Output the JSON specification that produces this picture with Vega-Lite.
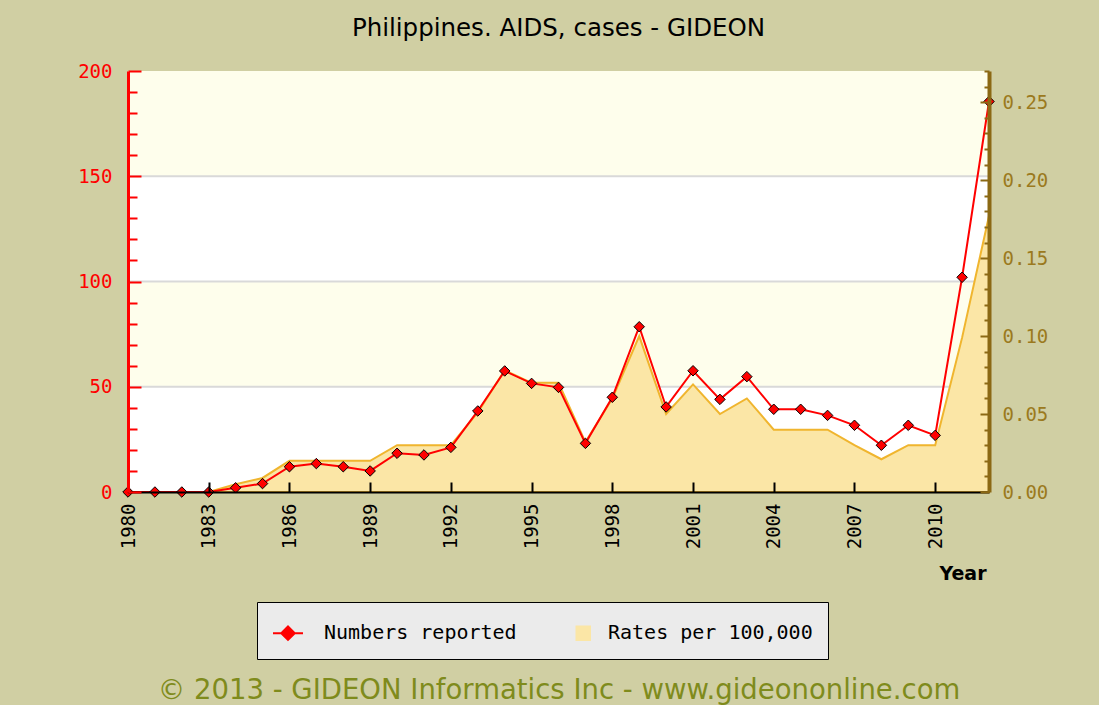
{
  "$schema": "https://vega.github.io/schema/vega-lite/v6.json",
  "width": 861,
  "height": 421,
  "autosize": {"type": "none"},
  "padding": {"left": 128, "top": 71, "right": 110, "bottom": 213},
  "background": "#d0cfa3",
  "view": {"fill": "white", "stroke": null},
  "title": {
    "text": "Philippines. AIDS, cases - GIDEON",
    "font": "DejaVu Sans",
    "fontSize": 24.5,
    "fontWeight": "normal",
    "color": "black",
    "anchor": "middle",
    "frame": "group",
    "offset": 21
  },
  "datasets": {
    "main": [
      {"year": 1980, "numbers": 0, "rate": null},
      {"year": 1981, "numbers": 0, "rate": null},
      {"year": 1982, "numbers": 0, "rate": null},
      {"year": 1983, "numbers": 0, "rate": 0},
      {"year": 1984, "numbers": 2, "rate": 0.005},
      {"year": 1985, "numbers": 4, "rate": 0.009},
      {"year": 1986, "numbers": 12, "rate": 0.02},
      {"year": 1987, "numbers": 13.5, "rate": 0.02},
      {"year": 1988, "numbers": 12, "rate": 0.02},
      {"year": 1989, "numbers": 10, "rate": 0.02},
      {"year": 1990, "numbers": 18.4, "rate": 0.03},
      {"year": 1991, "numbers": 17.6, "rate": 0.03},
      {"year": 1992, "numbers": 21.2, "rate": 0.03},
      {"year": 1993, "numbers": 38.5, "rate": 0.051},
      {"year": 1994, "numbers": 57.5, "rate": 0.078},
      {"year": 1995, "numbers": 51.6, "rate": 0.07},
      {"year": 1996, "numbers": 49.7, "rate": 0.07},
      {"year": 1997, "numbers": 23.1, "rate": 0.032},
      {"year": 1998, "numbers": 45, "rate": 0.06},
      {"year": 1999, "numbers": 78.5, "rate": 0.1},
      {"year": 2000, "numbers": 40.4, "rate": 0.05},
      {"year": 2001, "numbers": 57.6, "rate": 0.069},
      {"year": 2002, "numbers": 44, "rate": 0.05},
      {"year": 2003, "numbers": 54.8, "rate": 0.06},
      {"year": 2004, "numbers": 39.3, "rate": 0.04},
      {"year": 2005, "numbers": 39.3, "rate": 0.04},
      {"year": 2006, "numbers": 36.4, "rate": 0.04},
      {"year": 2007, "numbers": 31.7, "rate": 0.03},
      {"year": 2008, "numbers": 22.2, "rate": 0.021},
      {"year": 2009, "numbers": 31.7, "rate": 0.03},
      {"year": 2010, "numbers": 26.9, "rate": 0.03},
      {"year": 2011, "numbers": 102, "rate": 0.099},
      {"year": 2012, "numbers": 185.5, "rate": 0.177}
    ],
    "bands": [
      {"lo": 50, "hi": 100},
      {"lo": 150, "hi": 200}
    ],
    "grid": [
      {"v": 50},
      {"v": 100},
      {"v": 150}
    ]
  },
  "layer": [
    {
      "layer": [
        {
          "data": {"name": "bands"},
          "mark": {"type": "rect", "color": "#fefeec"},
          "encoding": {
            "y": {"field": "lo", "type": "quantitative", "scale": {"domain": [0, 200], "nice": false}, "axis": null},
            "y2": {"field": "hi"}
          }
        },
        {
          "data": {"name": "grid"},
          "mark": {"type": "rule", "color": "#d9d9d9", "strokeWidth": 2},
          "encoding": {
            "y": {"field": "v", "type": "quantitative", "scale": {"domain": [0, 200], "nice": false}, "axis": null}
          }
        }
      ]
    },
    {
      "data": {"name": "main"},
      "transform": [{"filter": "datum.rate != null"}],
      "mark": {"type": "area", "stroke": "#f0b52e", "strokeWidth": 2, "fillOpacity": 1},
      "encoding": {
        "x": {
          "field": "year",
          "type": "quantitative",
          "scale": {"domain": [1980, 2012], "nice": false, "zero": false},
          "axis": {
            "values": [1980, 1983, 1986, 1989, 1992, 1995, 1998, 2001, 2004, 2007, 2010],
            "format": "d",
            "labelAngle": -90,
            "labelFont": "DejaVu Sans Mono",
            "labelFontSize": 19,
            "labelColor": "black",
            "labelPadding": 21,
            "labelOverlap": false,
            "labelFlush": false,
            "tickSize": -10,
            "tickColor": "black",
            "tickWidth": 2,
            "domainColor": "black",
            "domainWidth": 2,
            "grid": false,
            "zindex": 1,
            "title": "© 2013 - GIDEON Informatics Inc - www.gideononline.com",
            "titleFont": "DejaVu Sans",
            "titleFontSize": 27.5,
            "titleFontWeight": "normal",
            "titleColor": "#7f8b1c",
            "titleY": 198,
            "titleBaseline": "middle"
          }
        },
        "y": {
          "field": "rate",
          "type": "quantitative",
          "scale": {"domain": [0, 0.27], "nice": false},
          "axis": {
            "orient": "right",
            "values": [0, 0.01, 0.02, 0.03, 0.04, 0.05, 0.06, 0.07, 0.08, 0.09, 0.1, 0.11, 0.12, 0.13, 0.14, 0.15, 0.16, 0.17, 0.18, 0.19, 0.2, 0.21, 0.22, 0.23, 0.24, 0.25, 0.26, 0.27],
            "format": ".2f",
            "labelExpr": "round(datum.value * 100) % 5 === 0 ? datum.label : ''",
            "labelOverlap": false,
            "labelFlush": false,
            "labelFont": "DejaVu Sans Mono",
            "labelFontSize": 19,
            "labelColor": "#9b7a1e",
            "labelPadding": 22,
            "domainColor": "#8b6914",
            "domainWidth": 4,
            "tickColor": "#8b6914",
            "tickWidth": 2,
            "tickSize": {"condition": {"test": "round(datum.value * 100) % 5 === 0", "value": -9}, "value": -5},
            "grid": false,
            "zindex": 1,
            "title": "Year",
            "titleAngle": 0,
            "titleX": -3,
            "titleY": 502,
            "titleAlign": "right",
            "titleBaseline": "middle",
            "titleFont": "DejaVu Sans",
            "titleFontSize": 19,
            "titleFontWeight": "bold",
            "titleColor": "black"
          }
        },
        "color": {
          "datum": "Rates per 100,000",
          "type": "nominal",
          "scale": {"domain": ["Numbers reported", "Rates per 100,000"], "range": ["#ff0000", "#fbe6a6"]},
          "legend": {
            "orient": "none",
            "legendX": 129,
            "legendY": 531,
            "direction": "horizontal",
            "columns": 2,
            "title": null,
            "fillColor": "#ebebeb",
            "strokeColor": "black",
            "padding": 15,
            "symbolSize": 900,
            "symbolStrokeWidth": 2,
            "symbolType": {"expr": "datum.value === 'Numbers reported' ? 'M-1,0H1M0,-0.45L0.45,0L0,0.45L-0.45,0Z' : 'M0.3,-0.45H1.2V0.45H0.3Z'"},
            "labelFont": "DejaVu Sans Mono",
            "labelFontSize": 20,
            "labelColor": "black",
            "labelOffset": 20,
            "labelLimit": 500,
            "columnPadding": 39,
            "labelExpr": "datum.label === 'Rates per 100,000' ? datum.label + '\u00a0\u00a0' : datum.label",
            "encode": {
              "symbols": {
                "shape": {"value": {"expr": "datum.value === 'Numbers reported' ? 'M-1,0H1M0,-0.45L0.45,0L0,0.45L-0.45,0Z' : 'M0.3,-0.45H1.2V0.45H0.3Z'"}},
                "strokeWidth": {"value": 2},
                "opacity": {"value": 1}
              }
            }
          }
        }
      }
    },
    {
      "data": {"name": "main"},
      "mark": {
        "type": "line",
        "strokeWidth": 2,
        "point": {"shape": "diamond", "size": 110, "filled": true, "stroke": "black", "strokeWidth": 1}
      },
      "encoding": {
        "x": {
          "field": "year",
          "type": "quantitative",
          "scale": {"domain": [1980, 2012], "nice": false, "zero": false},
          "axis": {
            "values": [1980, 1983, 1986, 1989, 1992, 1995, 1998, 2001, 2004, 2007, 2010],
            "format": "d",
            "labelAngle": -90,
            "labelFont": "DejaVu Sans Mono",
            "labelFontSize": 19,
            "labelColor": "black",
            "labelPadding": 21,
            "labelOverlap": false,
            "labelFlush": false,
            "tickSize": -10,
            "tickColor": "black",
            "tickWidth": 2,
            "domainColor": "black",
            "domainWidth": 2,
            "grid": false,
            "zindex": 1,
            "title": "© 2013 - GIDEON Informatics Inc - www.gideononline.com",
            "titleFont": "DejaVu Sans",
            "titleFontSize": 27.5,
            "titleFontWeight": "normal",
            "titleColor": "#7f8b1c",
            "titleY": 198,
            "titleBaseline": "middle"
          }
        },
        "y": {
          "field": "numbers",
          "type": "quantitative",
          "scale": {"domain": [0, 200], "nice": false},
          "axis": {
            "orient": "left",
            "values": [0, 10, 20, 30, 40, 50, 60, 70, 80, 90, 100, 110, 120, 130, 140, 150, 160, 170, 180, 190, 200],
            "labelExpr": "datum.value % 50 === 0 ? datum.label : ''",
            "labelOverlap": false,
            "labelFlush": false,
            "labelFont": "DejaVu Sans Mono",
            "labelFontSize": 19,
            "labelColor": "#ff0000",
            "labelPadding": 29,
            "domainColor": "#ff0000",
            "domainWidth": 3,
            "tickColor": "#ff0000",
            "tickWidth": 2,
            "tickSize": {"condition": {"test": "datum.value % 50 === 0", "value": -13}, "value": -9},
            "grid": false,
            "zindex": 1,
            "title": null
          }
        },
        "color": {"datum": "Numbers reported", "type": "nominal"}
      }
    }
  ],
  "resolve": {"scale": {"y": "independent"}}
}
